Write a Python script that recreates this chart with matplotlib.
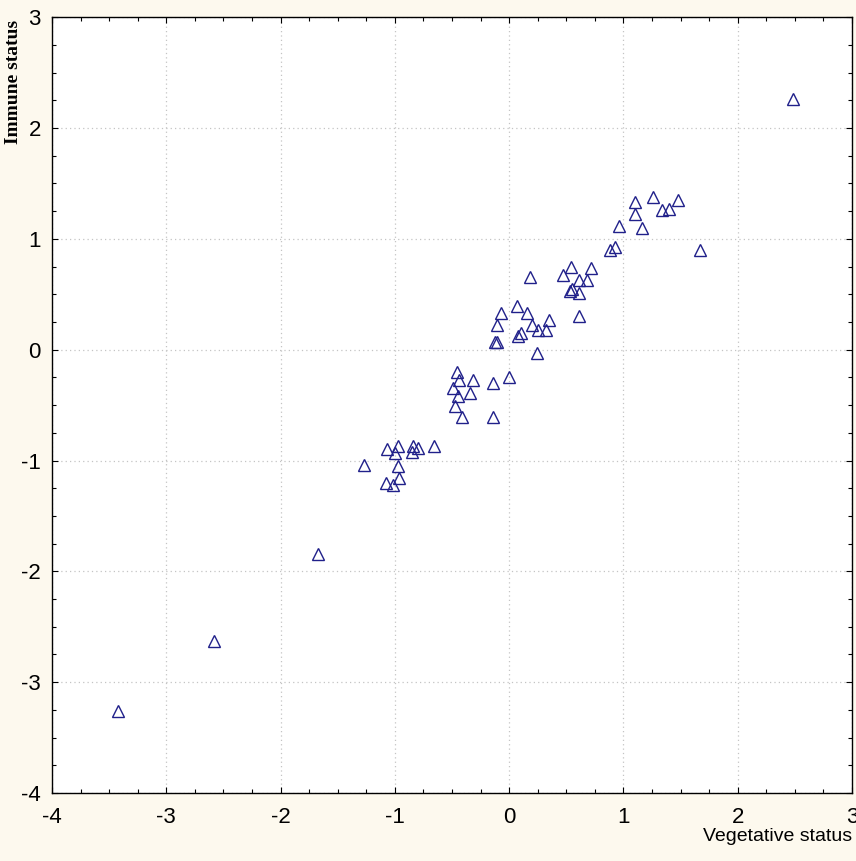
import matplotlib
matplotlib.use("Agg")
import matplotlib.pyplot as plt
from matplotlib.ticker import MultipleLocator

plt.rcParams["axes.unicode_minus"] = False

# vegetative status (x) and immune status (y) for each subject
vegetative = [-3.42, -2.58, -1.67, -1.27, -1.08, -1.02, -0.96, -0.97, -1.00,
              -1.07, -0.97, -0.84, -0.80, -0.85, -0.66, -0.46, -0.44, -0.49,
              -0.45, -0.47, -0.32, -0.34, -0.41, -0.14, -0.14, 0.00, -0.12,
              -0.07, -0.11, -0.11, 0.07, 0.16, 0.08, 0.10, 0.20, 0.25, 0.32,
              0.35, 0.24, 0.18, 0.61, 0.47, 0.54, 0.61, 0.55, 0.53, 0.61,
              0.68, 0.72, 0.88, 0.93, 0.96, 1.10, 1.10, 1.16, 1.26, 1.34,
              1.40, 1.48, 1.67, 2.48]
immune = [-3.26, -2.63, -1.84, -1.04, -1.20, -1.22, -1.16, -1.05, -0.93,
          -0.90, -0.87, -0.87, -0.89, -0.92, -0.87, -0.20, -0.27, -0.35,
          -0.42, -0.51, -0.27, -0.39, -0.61, -0.30, -0.61, -0.25, 0.07,
          0.33, 0.22, 0.07, 0.39, 0.33, 0.12, 0.15, 0.22, 0.18, 0.18,
          0.27, -0.03, 0.66, 0.30, 0.67, 0.75, 0.63, 0.55, 0.53, 0.51,
          0.63, 0.74, 0.90, 0.93, 1.12, 1.33, 1.22, 1.10, 1.38, 1.26,
          1.27, 1.35, 0.90, 2.26]

x_ticks = [-4, -3, -2, -1, 0, 1, 2, 3]
y_ticks = [-4, -3, -2, -1, 0, 1, 2, 3]

fig = plt.figure(figsize=(8.56, 8.61), dpi=100)
fig.patch.set_facecolor("#fdf9ee")
ax = fig.add_axes([0.0607, 0.079, 0.9346, 0.901])
ax.set_facecolor("white")

ax.plot(vegetative, immune, linestyle="none", marker="^", ms=9,
        mfc="none", mec="#20208a", mew=1.0)

ax.set_xlim(-4, 3)
ax.set_ylim(-4, 3)
ax.set_xticks(x_ticks)
ax.set_yticks(y_ticks)
ax.xaxis.set_minor_locator(MultipleLocator(0.25))
ax.yaxis.set_minor_locator(MultipleLocator(0.25))
ax.grid(True, which="major", linestyle=(0, (1, 2.5)), color="#c4c4c4", linewidth=0.9)

ax.tick_params(which="both", direction="in", top=True, right=True, color="black")
ax.tick_params(which="major", length=4, width=0.8)
ax.tick_params(axis="x", which="major", pad=10)
ax.tick_params(axis="y", which="major", pad=8)
ax.tick_params(which="minor", length=3, width=0.8)

tick_font = ["Liberation Sans", "DejaVu Sans"]
for lab in ax.get_xticklabels() + ax.get_yticklabels():
    lab.set_family(tick_font)
    lab.set_fontsize(16)

for s in ax.spines.values():
    s.set_linewidth(1.0)
    s.set_color("black")

fig.text(0.9953, 0.019, "Vegetative status", ha="right", va="bottom",
         fontsize=14, family=tick_font)
fig.text(0.016, 0.905, "Immune status", ha="center", va="center", rotation=90,
         fontsize=14, fontweight="bold", family=["Liberation Serif", "DejaVu Serif"])

fig.savefig("out.png", dpi=100, facecolor=fig.get_facecolor())
